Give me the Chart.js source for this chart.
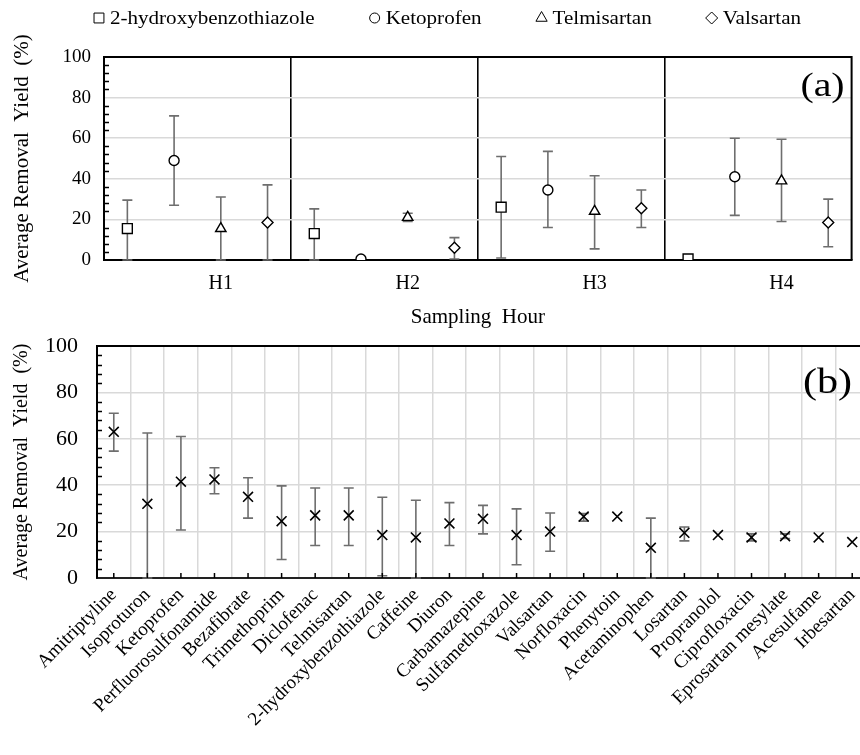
<!DOCTYPE html>
<html>
<head>
<meta charset="utf-8">
<script src="https://cdn.jsdelivr.net/npm/chart.js@4.4.1/dist/chart.umd.min.js"></script>
<style>
  html, body { margin: 0; padding: 0; background: #fff; overflow: hidden; width: 860px; height: 755px; }
  canvas { display: block; }
</style>
</head>
<body>
<canvas id="chartA" width="860" height="330"></canvas>
<canvas id="chartB" width="880" height="425"></canvas>
<script>
// Panel (a) data: removal yield per sampling hour
const hours = ["H1", "H2", "H3", "H4"];
const seriesNames = ["2-hydroxybenzothiazole", "Ketoprofen", "Telmisartan", "Valsartan"];
const hbtMean = [15.5, 13, 26, 0.5];
const hbtLow = [0, 0, 1, null];
const hbtHigh = [29.5, 25.2, 51, null];
const ketoMean = [49, 0.5, 34.5, 41];
const ketoLow = [27, null, 16, 22];
const ketoHigh = [71, null, 53.5, 60];
const telmiMean = [15.5, 21, 24, 39];
const telmiLow = [0, 19, 5.5, 19];
const telmiHigh = [31, 23, 41.5, 59.5];
const valsMean = [18.5, 6, 25.5, 18.5];
const valsLow = [0, 0.5, 16, 6.5];
const valsHigh = [37, 11, 34.5, 30];

// Panel (b) data: average per compound
const compounds = ["Amitriptyline", "Isoproturon", "Ketoprofen", "Perfluorosulfonamide", "Bezafibrate",
  "Trimethoprim", "Diclofenac", "Telmisartan", "2-hydroxybenzothiazole", "Caffeine", "Diuron",
  "Carbamazepine", "Sulfamethoxazole", "Valsartan", "Norfloxacin", "Phenytoin", "Acetaminophen",
  "Losartan", "Propranolol", "Ciprofloxacin", "Eprosartan mesylate", "Acesulfame", "Irbesartan"];
const compMean = [63, 32, 41.5, 42.5, 35, 24.5, 27, 27, 18.5, 17.5, 23.5, 25.5, 18.5, 20, 26.5, 26.5,
  13, 19.5, 18.5, 17.5, 18, 17.5, 15.5];
const compLow = [54.7, 0, 20.7, 36.3, 25.8, 8, 14, 14, 1, 0, 14, 19, 5.7, 11.5, 24.5, null,
  0, 16, null, 16, 17, null, null];
const compHigh = [71, 62.5, 61, 47.5, 43.2, 39.7, 38.8, 38.8, 34.8, 33.5, 32.5, 31.3, 29.8, 28, 27.8, null,
  25.8, 22, null, 19, 19, null, null];

const yTicks = [0, 20, 40, 60, 80, 100];

const SERIF = "'Liberation Serif', 'Times New Roman', serif";
const ERR_COLOR = "#6e6e6e";
const GRID_COLOR = "#d9d9d9";
const STRETCH = 1.17; // the original text is a bit wide

// error bars drawn under the markers
const errorBars = {
  id: "errorBars",
  beforeDatasetsDraw(chart, args, opts) {
    const ctx = chart.ctx;
    const yScale = chart.scales.y;
    ctx.save();
    ctx.strokeStyle = ERR_COLOR;
    ctx.lineWidth = 1.6;
    chart.data.datasets.forEach((ds, i) => {
      const meta = chart.getDatasetMeta(i);
      meta.data.forEach((pt, j) => {
        const lo = ds.errLow[j], hi = ds.errHigh[j];
        if (lo == null || hi == null) return;
        const x = pt.x;
        const y1 = yScale.getPixelForValue(lo);
        const y2 = yScale.getPixelForValue(hi);
        const w = opts.cap || 5;
        ctx.beginPath();
        ctx.moveTo(x, y1); ctx.lineTo(x, y2);
        ctx.moveTo(x - w, y1); ctx.lineTo(x + w, y1);
        ctx.moveTo(x - w, y2); ctx.lineTo(x + w, y2);
        ctx.stroke();
      });
    });
    ctx.restore();
  }
};

// box frame, inner minor ticks and the panel letter
const frame = {
  id: "frame",
  afterDraw(chart, args, opts) {
    const ctx = chart.ctx;
    const a = chart.chartArea;
    const yScale = chart.scales.y;
    ctx.save();
    ctx.strokeStyle = "#000";
    ctx.lineWidth = 2;
    ctx.beginPath();
    ctx.moveTo(a.left, a.top); ctx.lineTo(a.right, a.top);
    if (opts.right) { ctx.lineTo(a.right, a.bottom); }
    ctx.stroke();
    // minor ticks every 4 %
    ctx.lineWidth = 1.5;
    ctx.beginPath();
    for (let v = 4; v < 100; v += 4) {
      if (v % 20 === 0) continue;
      const y = Math.round(yScale.getPixelForValue(v)) + 0.5;
      ctx.moveTo(a.left, y); ctx.lineTo(a.left + 5, y);
    }
    // ticks at category centres (panel b)
    if (opts.xTicks) {
      const xScale = chart.scales.x;
      for (let i = 0; i < chart.data.labels.length; i++) {
        const x = xScale.getPixelForValue(i);
        ctx.moveTo(x, a.bottom); ctx.lineTo(x, a.bottom - 5);
      }
    }
    ctx.stroke();
    ctx.fillStyle = "#000";
    ctx.font = opts.letterSize + "px " + SERIF;
    ctx.textAlign = "right";
    ctx.textBaseline = "middle";
    ctx.translate(a.right - opts.letterDx, a.top + opts.letterDy);
    ctx.scale(STRETCH, 1);
    ctx.fillText(opts.letter, 0, 0);
    ctx.restore();
  }
};

// legend row at the top of panel (a)
const topLegend = {
  id: "topLegend",
  afterDraw(chart, args, opts) {
    const ctx = chart.ctx;
    ctx.save();
    ctx.font = opts.size + "px " + SERIF;
    ctx.textBaseline = "middle";
    ctx.textAlign = "left";
    const items = chart.data.datasets.map(ds => ({ ds, tw: ctx.measureText(ds.label).width * STRETCH }));
    const total = items.reduce((s, it) => s + opts.markGap + it.tw, 0) + opts.gap * (items.length - 1);
    let x = opts.center - total / 2;
    items.forEach(it => {
      ctx.fillStyle = "#fff";
      ctx.strokeStyle = "#000";
      Chart.helpers.drawPoint(ctx, {
        pointStyle: it.ds.pointStyle, radius: it.ds.legendRadius, borderWidth: 1.4
      }, x, opts.y);
      ctx.fillStyle = "#000";
      ctx.save();
      ctx.translate(x + opts.markGap, opts.y + 1);
      ctx.scale(STRETCH, 1);
      ctx.fillText(it.ds.label, 0, 0);
      ctx.restore();
      x += opts.markGap + it.tw + opts.gap;
    });
    ctx.restore();
  }
};

const styles = ["rect", "circle", "triangle", "rectRot"];
const radii = [7, 5, 6, 5.5];
const legendRadii = [7, 5, 6.5, 6];
const means = [hbtMean, ketoMean, telmiMean, valsMean];
const lows = [hbtLow, ketoLow, telmiLow, valsLow];
const highs = [hbtHigh, ketoHigh, telmiHigh, valsHigh];

// each hour group spans one unit of x, with four slots inside it
const datasetsA = seriesNames.map((name, s) => ({
  label: name,
  data: means[s].map((v, g) => ({ x: g + (s + 0.5) / 4, y: v })),
  errLow: lows[s],
  errHigh: highs[s],
  pointStyle: styles[s],
  pointRadius: radii[s],
  legendRadius: legendRadii[s],
  pointBackgroundColor: "#fff",
  pointBorderColor: "#000",
  pointBorderWidth: 1.4,
  showLine: false
}));

const hourTicks = [0, 0.625, 1, 1.625, 2, 2.625, 3, 3.625, 4];

new Chart(document.getElementById("chartA"), {
  type: "scatter",
  data: { datasets: datasetsA },
  options: {
    responsive: false,
    animation: false,
    layout: { padding: { top: 57, right: 8, left: 0, bottom: 0 } },
    plugins: {
      legend: { display: false },
      tooltip: { enabled: false },
      errorBars: { cap: 5 },
      frame: { right: true, letter: "(a)", letterSize: 34, letterDx: 7, letterDy: 30 },
      topLegend: { size: 18, y: 18, center: 450, markGap: 11, gap: 60 }
    },
    scales: {
      x: {
        type: "linear", min: 0, max: 4,
        afterBuildTicks: s => { s.ticks = hourTicks.map(v => ({ value: v })); },
        afterFit: s => { s.height = 70; s.paddingLeft = 0; s.paddingRight = 0; },
        ticks: {
          autoSkip: false, maxRotation: 0, padding: 12,
          color: "#000", font: { family: SERIF, size: 20 },
          callback: v => (v % 1 !== 0 ? hours[Math.floor(v)] : "")
        },
        grid: {
          drawTicks: false,
          color: c => (c.tick && c.tick.value % 1 === 0 && c.tick.value > 0 && c.tick.value < 4 ? "#000" : "rgba(0,0,0,0)"),
          lineWidth: 1.6
        },
        border: { color: "#000", width: 2 },
        title: { display: true, text: "Sampling  Hour", color: "#000", font: { family: SERIF, size: 21 }, padding: { top: 2, bottom: 0 } }
      },
      y: {
        min: 0, max: 100,
        afterFit: s => { s.width = 104; s.paddingTop = 0; s.paddingBottom = 0; },
        afterBuildTicks: s => { s.ticks = yTicks.map(v => ({ value: v })); },
        ticks: { padding: 13, color: "#000", font: { family: SERIF, size: 19 } },
        grid: { drawTicks: false, color: c => (c.tick && c.tick.value > 0 && c.tick.value < 100 ? GRID_COLOR : "rgba(0,0,0,0)"), lineWidth: 1.5 },
        border: { color: "#000", width: 2 },
        title: { display: true, text: "Average Removal  Yield  (%)", color: "#000", font: { family: SERIF, size: 21 }, padding: { top: 10, bottom: 0 } }
      }
    }
  },
  plugins: [errorBars, frame, topLegend]
});

new Chart(document.getElementById("chartB"), {
  type: "line",
  data: {
    labels: compounds,
    datasets: [{
      label: "Average",
      data: compMean,
      errLow: compLow,
      errHigh: compHigh,
      showLine: false,
      pointStyle: "crossRot",
      pointRadius: 7,
      pointBorderColor: "#000",
      pointBorderWidth: 1.6
    }]
  },
  options: {
    responsive: false,
    animation: false,
    layout: { padding: { top: 16, right: 11, left: 0, bottom: 0 } },
    plugins: {
      legend: { display: false },
      tooltip: { enabled: false },
      errorBars: { cap: 5 },
      frame: { right: false, xTicks: true, letter: "(b)", letterSize: 36, letterDx: 17, letterDy: 38 }
    },
    scales: {
      x: {
        type: "category", offset: true,
        afterFit: s => { s.height = 177; s.paddingLeft = 0; s.paddingRight = 0; },
        ticks: {
          autoSkip: false, minRotation: 45, maxRotation: 45, padding: 6,
          color: "#000", font: { family: SERIF, size: 19 }
        },
        grid: { offset: true, drawTicks: false, color: GRID_COLOR, lineWidth: 1.5 },
        border: { color: "#222", width: 2 }
      },
      y: {
        min: 0, max: 100,
        afterFit: s => { s.width = 97; s.paddingTop = 0; s.paddingBottom = 0; },
        afterBuildTicks: s => { s.ticks = yTicks.map(v => ({ value: v })); },
        ticks: { padding: 19, color: "#000", font: { family: SERIF, size: 22 } },
        grid: { drawTicks: false, color: c => (c.tick && c.tick.value > 0 && c.tick.value < 100 ? GRID_COLOR : "rgba(0,0,0,0)"), lineWidth: 1.5 },
        border: { color: "#000", width: 2 },
        title: { display: true, text: "Average Removal  Yield  (%)", color: "#000", font: { family: SERIF, size: 20 }, padding: { top: 10, bottom: 0 } }
      }
    }
  },
  plugins: [errorBars, frame]
});
</script>
</body>
</html>
